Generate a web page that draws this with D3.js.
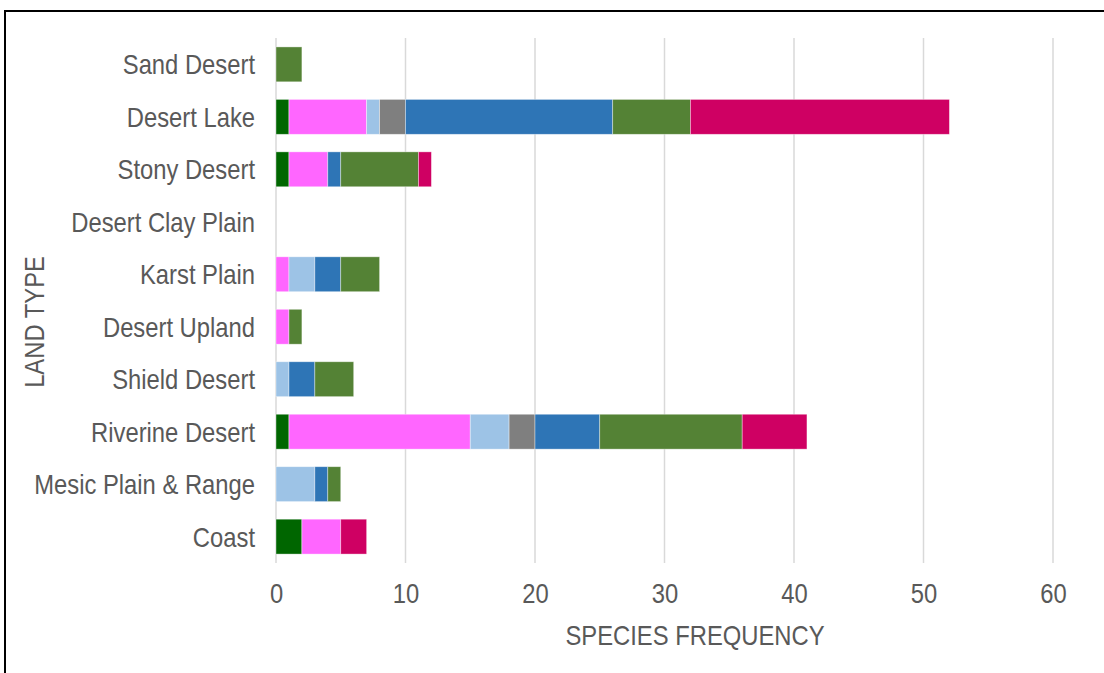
<!DOCTYPE html>
<html>
<head>
<meta charset="utf-8">
<script src="https://cdn.jsdelivr.net/npm/d3@7"></script>
<style>
  body { margin: 0; background: #fff; }
  svg { display: block; font-family: "Liberation Sans", Arial, sans-serif; }
</style>
</head>
<body>
<svg width="1104" height="673"></svg>
<script>
// land types, top to bottom
const landTypes = ["Sand Desert", "Desert Lake", "Stony Desert", "Desert Clay Plain", "Karst Plain",
  "Desert Upland", "Shield Desert", "Riverine Desert", "Mesic Plain & Range", "Coast"];

// series, stacked left to right
const seriesKeys = ["s1", "s2", "s3", "s4", "s5", "s6", "s7"];
const seriesColors = ["#006600", "#ff66ff", "#9dc3e6", "#7f7f7f", "#2e75b6", "#548235", "#cf0063"];

const s1 = [0, 1, 1, 0, 0, 0, 0, 1, 0, 2];
const s2 = [0, 6, 3, 0, 1, 1, 0, 14, 0, 3];
const s3 = [0, 1, 0, 0, 2, 0, 1, 3, 3, 0];
const s4 = [0, 2, 0, 0, 0, 0, 0, 2, 0, 0];
const s5 = [0, 16, 1, 0, 2, 0, 2, 5, 1, 0];
const s6 = [2, 6, 6, 0, 3, 1, 3, 11, 1, 0];
const s7 = [0, 20, 1, 0, 0, 0, 0, 5, 0, 2];

const xTicks = [0, 10, 20, 30, 40, 50, 60];

const rows = landTypes.map((name, i) => ({
  name: name, s1: s1[i], s2: s2[i], s3: s3[i], s4: s4[i], s5: s5[i], s6: s6[i], s7: s7[i]
}));

const svg = d3.select("svg");
const fontSize = 28, squeeze = 0.85, textColor = "#595959";

// outer frame
svg.append("rect")
  .attr("x", 5).attr("y", 11)
  .attr("width", 1110).attr("height", 680)
  .attr("fill", "none").attr("stroke", "#000").attr("stroke-width", 2);

const plotL = 276, plotR = 1053, plotT = 38, plotB = 563;

const xScale = d3.scaleLinear().domain([0, 60]).range([plotL, plotR]);
const yScale = d3.scaleBand().domain(landTypes).range([plotT, plotB]).paddingInner(0.335).paddingOuter(0.17);

// gridlines
svg.append("g")
  .selectAll("line")
  .data(xTicks)
  .enter()
  .append("line")
  .attr("x1", d => xScale(d)).attr("x2", d => xScale(d))
  .attr("y1", plotT).attr("y2", plotB)
  .attr("stroke", "#d9d9d9").attr("stroke-width", 1.5);

const stacked = d3.stack().keys(seriesKeys)(rows);

svg.append("g")
  .selectAll("g")
  .data(stacked)
  .enter()
  .append("g")
  .attr("fill", (d, i) => seriesColors[i])
  .selectAll("rect")
  .data(d => d.filter(p => p[1] > p[0]))
  .enter()
  .append("rect")
  .attr("x", d => xScale(d[0]))
  .attr("width", d => xScale(d[1]) - xScale(d[0]))
  .attr("y", d => yScale(d.data.name))
  .attr("height", yScale.bandwidth())
  .attr("stroke", "#ffffff").attr("stroke-opacity", 0.5).attr("stroke-width", 0.75);

// x axis labels
const xAxis = svg.append("g")
  .attr("transform", `translate(0,603)`)
  .call(d3.axisBottom(xScale).tickValues(xTicks).tickSize(0).tickPadding(0));
xAxis.select(".domain").remove();
xAxis.selectAll("text")
  .attr("dy", 0).attr("y", 0)
  .attr("font-size", fontSize).attr("fill", textColor)
  .attr("font-family", "Liberation Sans, Arial, sans-serif")
  .attr("transform", `scale(${squeeze},1)`);

// y axis labels
const yAxis = svg.append("g")
  .attr("transform", `translate(255,0)`)
  .call(d3.axisLeft(yScale).tickSize(0).tickPadding(0));
yAxis.select(".domain").remove();
yAxis.selectAll("text")
  .attr("x", 0).attr("dy", "0.36em")
  .attr("font-size", fontSize).attr("fill", textColor)
  .attr("font-family", "Liberation Sans, Arial, sans-serif")
  .attr("transform", `scale(${squeeze},1)`);

// axis titles
svg.append("g")
  .attr("transform", `translate(695,645) scale(${squeeze},1)`)
  .append("text")
  .attr("text-anchor", "middle")
  .attr("font-size", fontSize).attr("fill", textColor)
  .text("SPECIES FREQUENCY");

svg.append("g")
  .attr("transform", `translate(44,322) rotate(-90) scale(${squeeze},1)`)
  .append("text")
  .attr("text-anchor", "middle")
  .attr("font-size", fontSize).attr("fill", textColor)
  .text("LAND TYPE");
</script>
</body>
</html>
